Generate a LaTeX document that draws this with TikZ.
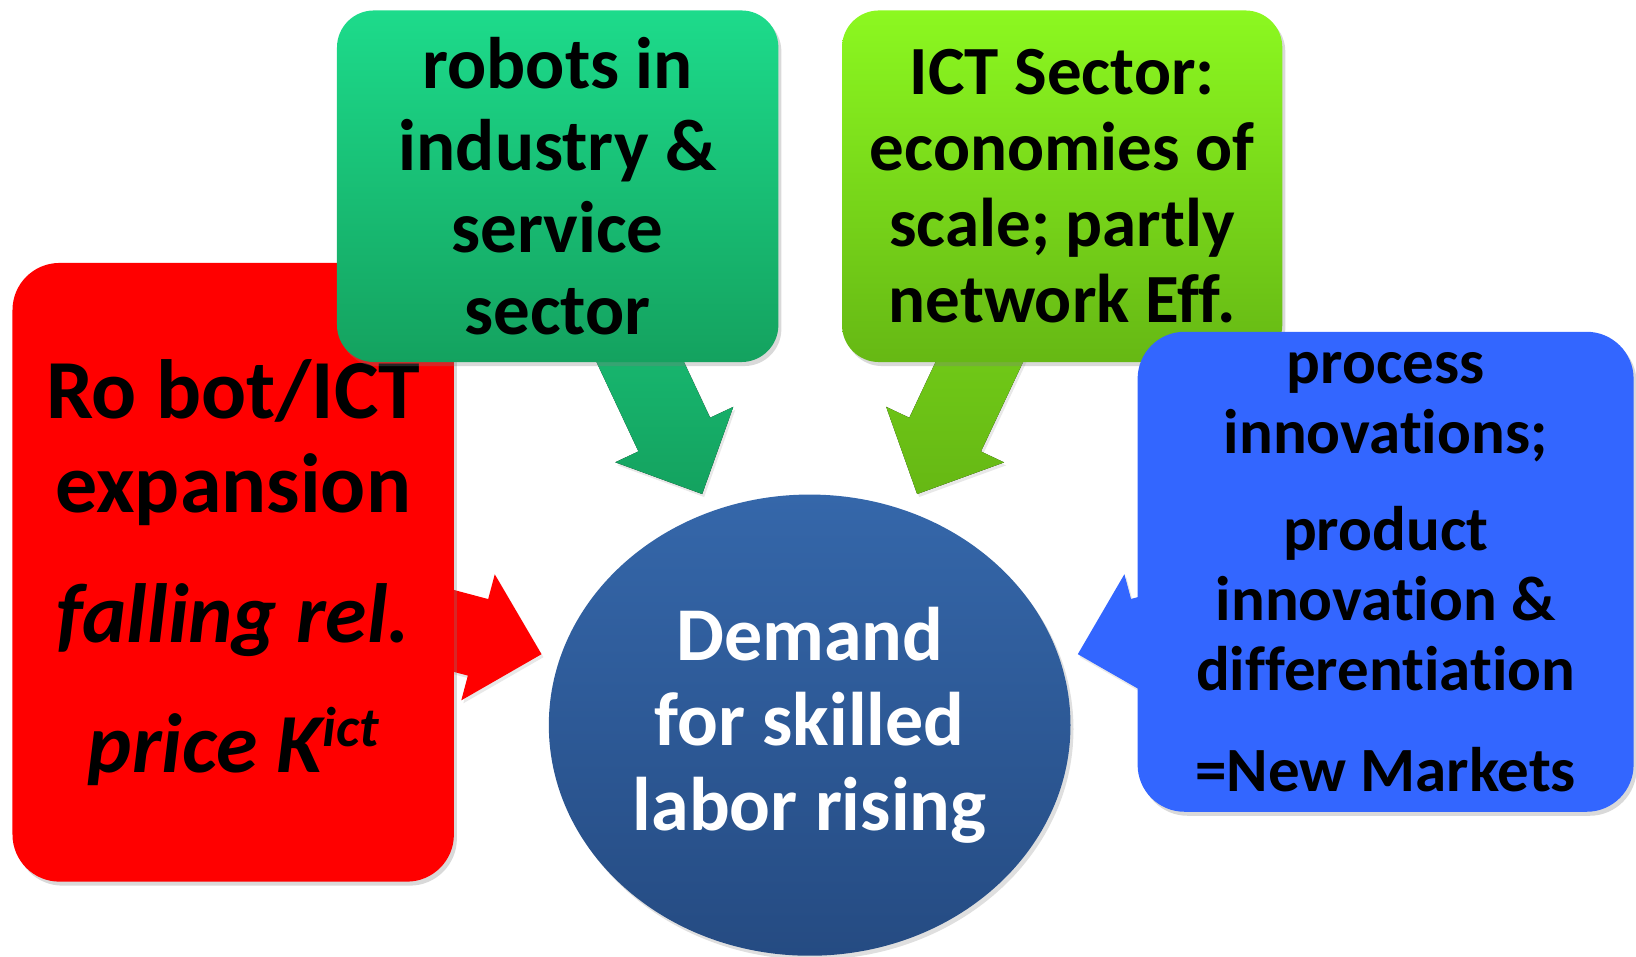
\documentclass[tikz,border=0pt]{standalone}
\usepackage{fontspec}
\setmainfont{Carlito}[Ligatures=NoCommon]
\usetikzlibrary{calc,shadows,shapes.geometric}
\pgfdeclarelayer{back}
\pgfsetlayers{back,main}

\definecolor{boxred}{HTML}{FF0000}
\definecolor{boxblue}{HTML}{3366FF}
\definecolor{mintTop}{HTML}{1DDB8B}
\definecolor{mintBot}{HTML}{14A25F}
\definecolor{limeTop}{HTML}{8CF820}
\definecolor{limeBot}{HTML}{66B814}
\definecolor{coreTop}{HTML}{3567AA}
\definecolor{coreBot}{HTML}{254B82}

% block arrow: #1 fill options, #2 source node, #3 tip coordinate
\newcommand\blockarrow[3]{%
  \path ($(#3)!65.7pt!(#2.center)$) coordinate (#2-hb);
  \fill[#1] ($(#2.center)!39.6pt!90:(#3)$) -- ($(#2-hb)!39.6pt!90:(#3)$)
    -- ($(#2-hb)!65.2pt!90:(#3)$) -- (#3) -- ($(#2-hb)!65.2pt!-90:(#3)$)
    -- ($(#2-hb)!39.6pt!-90:(#3)$) -- ($(#2.center)!39.6pt!-90:(#3)$) -- cycle;
}

\tikzset{
  panel/.style={rounded corners=#1, inner sep=0pt, align=center, text=black,
    drop shadow={opacity=0.3, shadow xshift=3pt, shadow yshift=-4pt}},
  panel/.default=37pt,
  arrowshadow/.style={drop shadow={opacity=0.18, shadow xshift=2pt, shadow yshift=-3pt}},
}

\begin{document}
\begin{tikzpicture}[x=1.0434pt, y=-1.0434pt]
\useasboundingbox (0,0) rectangle (1568,917);

% the four causes
\node[panel=47pt, fill=boxred, minimum width=441.4pt, minimum height=618.7pt,
      font=\fontsize{84}{94}\selectfont\bfseries] (expansion) at (223.5,548.5)
  {Ro bot/ICT\\expansion\\[36pt]\textit{falling rel.}\\[36pt]%
   \textit{price K\raisebox{26pt}{\fontsize{56}{56}\selectfont ict}}};

\node[panel, top color=mintTop, bottom color=mintBot, minimum width=441.4pt,
      minimum height=351.6pt, font=\fontsize{73}{82}\selectfont\bfseries]
  (robots) at (534.5,178.5) {robots in\\industry \&\\service\\sector};

\node[panel, top color=limeTop, bottom color=limeBot, minimum width=440.3pt,
      minimum height=351.6pt, font=\fontsize{69}{76}\selectfont\bfseries]
  (ict) at (1018,178.5) {ICT Sector:\\economies of\\scale; partly\\network Eff.};

\node[panel=47pt, fill=boxblue, minimum width=496pt, minimum height=480pt,
      font=\fontsize{63}{70}\selectfont\bfseries] (markets) at (1328,548)
  {process\\innovations;\\[27pt]product\\innovation \&\\differentiation\\[31pt]=New Markets};

% the effect
\node[ellipse, inner sep=0pt, minimum width=521.7pt, minimum height=461.2pt,
      top color=coreTop, bottom color=coreBot, text=white, align=center,
      drop shadow={opacity=0.25, shadow xshift=3pt, shadow yshift=-4pt},
      font=\fontsize{76}{85}\selectfont\bfseries] (demand) at (776,695)
  {Demand\\for skilled\\labor rising};

% arrow tips in front of the ellipse
\coordinate (tip-r) at (519,627);
\coordinate (tip-g) at (673,473.5);
\coordinate (tip-l) at (879,473.5);
\coordinate (tip-b) at (1033,627);

\begin{pgfonlayer}{back}
  \blockarrow{boxred, arrowshadow}{expansion}{tip-r}
  \blockarrow{top color=mintTop!80!mintBot, bottom color=mintBot, arrowshadow}{robots}{tip-g}
  \blockarrow{top color=limeTop!60!limeBot, bottom color=limeBot, arrowshadow}{ict}{tip-l}
  \blockarrow{boxblue, arrowshadow}{markets}{tip-b}
\end{pgfonlayer}
\end{tikzpicture}
\end{document}
